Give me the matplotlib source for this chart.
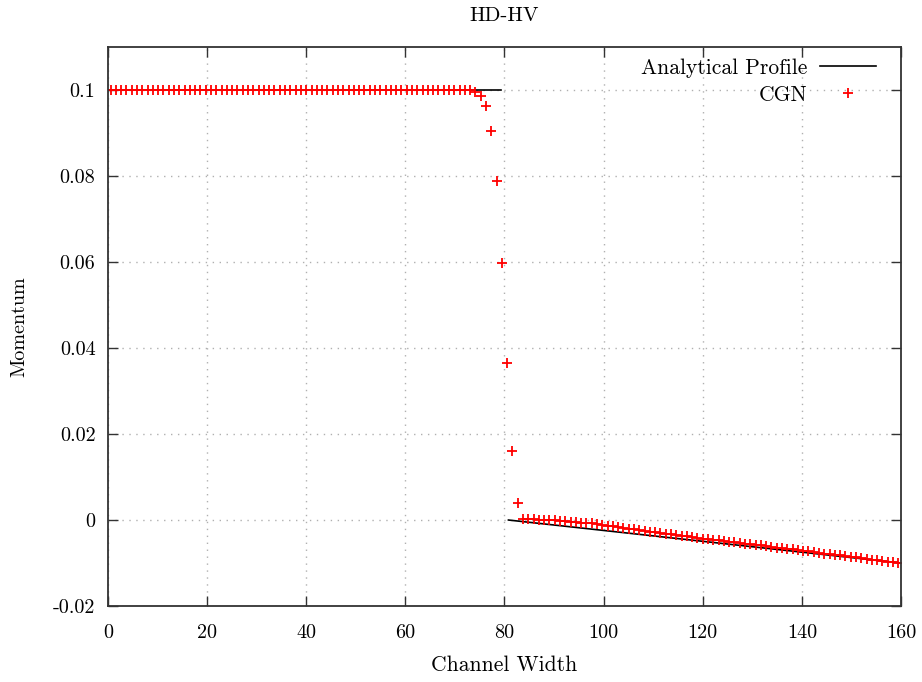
import numpy as np
import matplotlib
matplotlib.use("Agg")
import matplotlib.pyplot as plt

plt.rcParams['font.family'] = ['cmr10', 'DejaVu Serif']
plt.rcParams['axes.unicode_minus'] = False
plt.rcParams['mathtext.fontset'] = 'cm'

# channel discretisation: cell centres across the width
channel_width = 160.0
n_cells = 150

# CGN momentum at each cell centre
cgn_momentum = [
    0.1, 0.1, 0.1, 0.1, 0.1, 0.1, 0.1, 0.1, 0.1, 0.1, 0.1, 0.1, 0.1, 0.1, 0.1, 0.1, 0.1,
    0.1, 0.1, 0.1, 0.1, 0.1, 0.1, 0.1, 0.1, 0.1, 0.1, 0.1, 0.1, 0.1, 0.1, 0.1, 0.1, 0.1,
    0.1, 0.1, 0.1, 0.1, 0.1, 0.1, 0.1, 0.1, 0.1, 0.1, 0.1, 0.1, 0.1, 0.1, 0.1, 0.1, 0.1,
    0.1, 0.1, 0.1, 0.1, 0.1, 0.1, 0.1, 0.1, 0.1, 0.1, 0.1, 0.1, 0.1, 0.1, 0.1, 0.1, 0.1,
    0.0999, 0.0996, 0.0986, 0.0963, 0.0905, 0.0788, 0.0598, 0.0365, 0.0160, 0.0039,
    0.0002, 0.0002, 0.0002, 0.0001, 0.0001, 0.0000,
    -0.0001, -0.0002, -0.0003, -0.0004, -0.0005, -0.0006, -0.0007, -0.0008, -0.0010, -0.0012,
    -0.0014, -0.0015, -0.0017, -0.0019, -0.0020, -0.0022, -0.0024, -0.0025, -0.0027, -0.0028,
    -0.0030, -0.0032, -0.0033, -0.0035, -0.0037, -0.0038, -0.0040, -0.0041, -0.0043,
    -0.0044, -0.0046, -0.0047, -0.0049, -0.0050, -0.0052, -0.0053, -0.0055, -0.0056, -0.0058,
    -0.0059, -0.0061, -0.0062, -0.0064, -0.0065, -0.0067, -0.0068, -0.0070, -0.0071,
    -0.0073, -0.0074, -0.0076, -0.0078, -0.0079, -0.0081, -0.0082, -0.0084, -0.0086, -0.0087,
    -0.0089, -0.0090, -0.0092, -0.0094, -0.0095, -0.0097, -0.0098, -0.0100,
]

# analytical profile: uniform flow on the left, linear decay on the right
analytic_upper_x = [0.0, 79.2]
analytic_upper_y = [0.1, 0.1]
analytic_lower_x = [80.8, 160.0]
analytic_lower_y = [0.0, -0.01]

xticks = [0, 20, 40, 60, 80, 100, 120, 140, 160]
yticks = [-0.02, 0.0, 0.02, 0.04, 0.06, 0.08, 0.1]
ytick_labels = ['-0.02', '0', '0.02', '0.04', '0.06', '0.08', '0.1']

x = (np.arange(n_cells) + 0.5) * channel_width / n_cells

fig = plt.figure(figsize=(9.22, 6.82), dpi=100)
ax = fig.add_axes([0.1171, 0.1114, 0.8601, 0.8197])

ax.plot(analytic_upper_x, analytic_upper_y, color='black', lw=1.2,
        label='Analytical Profile')
ax.plot(analytic_lower_x, analytic_lower_y, color='black', lw=1.2)
ax.plot(x, cgn_momentum, ls='none', marker='+', color='red', ms=7, mew=1.3,
        label='CGN')

ax.set_xlim(0, 160)
ax.set_ylim(-0.02, 0.11)
ax.set_xticks(xticks)
ax.set_xticklabels([str(t) for t in xticks])
ax.set_yticks(yticks)
ax.set_yticklabels(ytick_labels)

ax.tick_params(direction='in', length=7, width=1.0, top=True, right=True,
               labelsize=14.5, color='#333333')
ax.tick_params(axis='x', pad=13)
ax.tick_params(axis='y', pad=9)
for s in ax.spines.values():
    s.set_linewidth(1.3)
    s.set_color('#333333')

ax.grid(True, color='#b0b0b0', ls=(0, (1, 4)), lw=1.0)

ax.set_title('HD-HV', fontsize=15, pad=19)
ax.set_xlabel('Channel Width', fontsize=15.5)
ax.set_ylabel('Momentum', fontsize=14.5)
ax.xaxis.set_label_coords(0.5, -0.089)
ax.yaxis.set_label_coords(-0.100, 0.5)

leg = ax.legend(loc='upper right', bbox_to_anchor=(0.985, 1.003), frameon=False,
                markerfirst=False, fontsize=15.5, handlelength=2.6,
                handletextpad=0.6, labelspacing=0.35, borderaxespad=0.2)

fig.savefig('out.png', dpi=100)
